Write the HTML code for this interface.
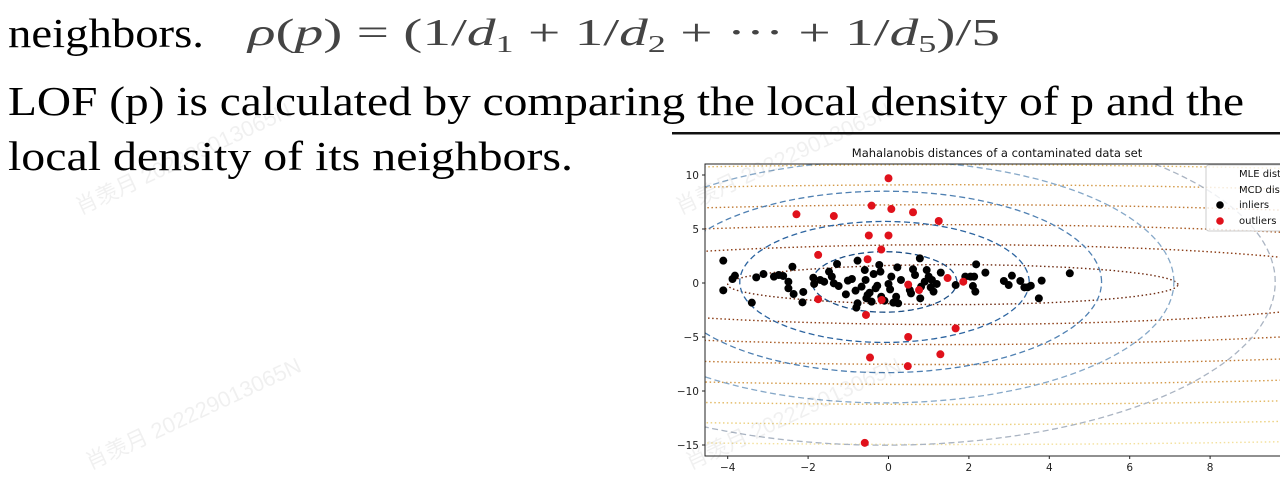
<!DOCTYPE html>
<html><head><meta charset="utf-8"><style>
html,body{margin:0;padding:0;background:#fff;}
svg{display:block;}
</style></head><body>
<svg width="1280" height="479" viewBox="0 0 1280 479" xmlns="http://www.w3.org/2000/svg">
<defs><clipPath id="plotclip"><rect x="705" y="164" width="600" height="292"/></clipPath></defs>
<g font-family="Liberation Serif, serif" fill="#000">
<text x="8" y="47" font-size="41" textLength="196" lengthAdjust="spacingAndGlyphs">neighbors.</text>
<text x="248" y="45" font-size="38" fill="#444" textLength="752" lengthAdjust="spacingAndGlyphs"><tspan font-style="italic">ρ</tspan>(<tspan font-style="italic">p</tspan>) = (1/<tspan font-style="italic">d</tspan><tspan font-size="24" dy="7">1</tspan><tspan dy="-7"> + 1/</tspan><tspan font-style="italic">d</tspan><tspan font-size="24" dy="7">2</tspan><tspan dy="-7"> + ··· + 1/</tspan><tspan font-style="italic">d</tspan><tspan font-size="24" dy="7">5</tspan><tspan dy="-7">)/5</tspan></text>
<text x="8" y="115" font-size="41" textLength="1236" lengthAdjust="spacingAndGlyphs">LOF (p) is calculated by comparing  the local density of p and the</text>
<text x="8" y="170" font-size="41" textLength="565" lengthAdjust="spacingAndGlyphs">local  density of its neighbors.</text>
</g>
<rect x="672" y="132" width="608" height="2.5" fill="#111"/>
<g id="chart" font-family="DejaVu Sans, Liberation Sans, sans-serif">
<text x="997" y="157" font-size="11.5" text-anchor="middle" fill="#111">Mahalanobis distances of a contaminated data set</text>
<g id="contours" clip-path="url(#plotclip)"></g>
<g id="points" clip-path="url(#plotclip)"></g>
<rect x="705" y="164" width="600" height="292" fill="none" stroke="#222" stroke-width="1"/>
<g id="axes" font-size="10.5" fill="#222"></g>
<g>
<rect x="1206" y="165" width="80" height="66" rx="3" fill="#fff" fill-opacity="0.8" stroke="#ccc"/>
<text x="1239" y="177" font-size="10" fill="#111">MLE dist</text>
<text x="1239" y="193" font-size="10" fill="#111">MCD dist</text>
<circle cx="1220" cy="205" r="3.8" fill="#000"/>
<text x="1239" y="208" font-size="10" fill="#111">inliers</text>
<circle cx="1220" cy="221" r="3.8" fill="#e0111b"/>
<text x="1239" y="224" font-size="10" fill="#111">outliers</text>
</g>
</g>
<g font-family="Liberation Sans, Noto Sans CJK SC, sans-serif" font-size="22" fill="#000" fill-opacity="0.06">
<text transform="translate(80,215) rotate(-25)">肖羡月 202229013065N</text>
<text transform="translate(90,470) rotate(-25)">肖羡月 202229013065N</text>
<text transform="translate(680,215) rotate(-25)">肖羡月 202229013065N</text>
<text transform="translate(690,470) rotate(-25)">肖羡月 202229013065N</text>
</g>
</svg>
<script>
const xTicks = [-4,-2,0,2,4,6,8];
const yTicks = [10,5,0,-5,-10,-15];
const inlierX = [-4.11,-4.11,-3.88,-3.82,-3.40,-3.29,-3.11,-2.85,-2.73,-2.62,-2.49,-2.49,-2.39,-2.36,-2.14,-2.12,-1.87,-1.85,-1.70,-1.60,-1.48,-1.41,-1.36,-1.28,-1.24,-1.06,-1.01,-0.91,-0.82,-0.77,-0.77,-0.80,-0.67,-0.59,-0.57,-0.55,-0.52,-0.47,-0.42,-0.37,-0.32,-0.28,-0.23,-0.20,-0.18,-0.10,0,0.04,0.07,0.12,0.19,0.22,0.24,0.31,0.53,0.56,0.61,0.66,0.78,0.79,0.81,0.90,0.95,1.00,1.05,1.08,1.12,1.20,1.30,1.67,1.91,2.04,2.10,2.13,2.16,2.18,2.41,2.87,2.99,3.07,3.28,3.38,3.46,3.54,3.74,3.81,4.51];
const inlierY = [2.07,-0.68,0.37,0.68,-1.82,0.52,0.83,0.59,0.74,0.65,0.12,-0.49,1.51,-1.02,-1.79,-0.83,0.49,-0.09,0.28,0.12,1.05,0.59,-0.03,1.76,-0.28,-1.05,0.22,0.37,-0.71,2.07,-1.88,-2.28,-0.34,1.20,0.28,-1.42,-1.11,-0.90,-1.73,0.83,-0.49,-0.25,1.67,1.05,-1.27,-1.64,-0.09,-0.59,0.59,-1.82,-1.27,1.45,-1.88,0.28,-0.65,-0.96,1.27,0.74,2.28,-1.42,-0.34,0.12,1.20,0.59,-0.40,0.28,-0.80,-0.09,0.96,-0.19,0.59,0.59,-0.28,0.59,-0.80,1.73,0.96,0.19,-0.19,0.68,0.19,-0.40,-0.40,-0.25,-1.42,0.22,0.90];
const outlierX = [0,-2.29,-1.36,-0.42,0.07,0.61,1.25,-0.49,0,-0.18,-1.75,-0.52,1.47,1.86,0.49,0.76,-1.75,-0.17,-0.56,1.67,0.49,-0.46,1.29,0.48,-0.59];
const outlierY = [9.7,6.36,6.2,7.16,6.85,6.55,5.74,4.4,4.4,3.1,2.6,2.2,0.46,0.12,-0.15,-0.65,-1.5,-1.57,-2.96,-4.2,-5.0,-6.9,-6.6,-7.7,-14.8];
const mcdLevels = [1,2,3,4,5.4];
const mleLevels = [1,2,3,4,5,6,7,8];

const NS='http://www.w3.org/2000/svg';
const X = v => 888.5 + 40.2*v;
const Y = v => 283 - 10.8*v;
function mk(tag, attrs, parent){const e=document.createElementNS(NS,tag);for(const k in attrs)e.setAttribute(k,attrs[k]);parent.appendChild(e);return e;}
const contours=document.getElementById('contours');
const mcdColors=['#1d4f86','#2c64a0','#4f80b2','#86a8c8','#aab4c2'];
const mleColors=['#6e2a10','#8a3a12','#a85a22','#c07a34','#d49a48','#e2b862','#ecd07e','#f3e09c'];
function ellipse(cx,cy,a,b,color,dash,w,name){
  let d='';
  for(let i=0;i<=180;i++){const t=i/180*2*Math.PI;d+=(i?'L':'M')+X(cx+a*Math.cos(t)).toFixed(1)+','+Y(cy+b*Math.sin(t)).toFixed(1);}
  const p=mk('path',{d:d,fill:'none',stroke:color,'stroke-width':w,'stroke-dasharray':dash},contours);
  
  
}
mleLevels.forEach((k,i)=>ellipse(1.6,-0.15,5.6*k,1.85*k,mleColors[i],'1.5,2.6',1.4,'mle-contour'));
mcdLevels.forEach((k,i)=>ellipse(-0.1,0.1,1.8*k,2.8*k,mcdColors[i],'6,3.5',1.3,'mcd-contour'));
const pts=document.getElementById('points');
inlierX.forEach((x,i)=>{const c=mk('circle',{cx:X(x),cy:Y(inlierY[i]),r:4,fill:'#000'},pts);
  
  });
outlierX.forEach((x,i)=>{const c=mk('circle',{cx:X(x),cy:Y(outlierY[i]),r:4,fill:'#e0111b'},pts);
  
  });
const axes=document.getElementById('axes');
xTicks.forEach(t=>{const l=mk('line',{x1:X(t),x2:X(t),y1:456,y2:459,stroke:'#222'},axes);
  
  
  const tx=mk('text',{x:X(t),y:471,'text-anchor':'middle'},axes);tx.textContent=(t<0?'\u2212'+(-t):t);
  
  });
yTicks.forEach(t=>{const l=mk('line',{x1:702,x2:705,y1:Y(t),y2:Y(t),stroke:'#222'},axes);
  
  
  const tx=mk('text',{x:699,y:Y(t)+3.8,'text-anchor':'end'},axes);tx.textContent=(t<0?'\u2212'+(-t):t);
  
  });
</script>
</body></html>
